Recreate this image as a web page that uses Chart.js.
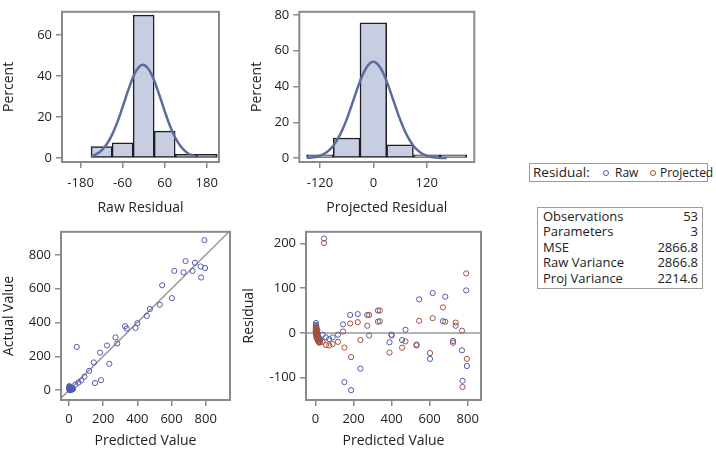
<!DOCTYPE html>
<html>
<head>
<meta charset="utf-8">
<script src="https://cdn.jsdelivr.net/npm/chart.js@4.4.0/dist/chart.umd.min.js"></script>
<style>
body { margin: 0; background: #fff; width: 716px; height: 450px; position: relative; overflow: hidden; font-family: 'Open Sans', sans-serif; color: #222; }
.pane { position: absolute; }
#legend { position: absolute; left: 529px; top: 163px; width: 177px; height: 17px; border: 1.5px solid #9a9a9a; font-size: 12px; white-space: nowrap; }
#legend span { position: absolute; top: 0; line-height: 17px; }
#legend .dot { top: 6px; box-sizing: border-box; width: 6px; height: 6px; border-radius: 50%; border: 1px solid; }
#stats { position: absolute; left: 537px; top: 207px; width: 164px; border: 1.5px solid #9a9a9a; font-size: 13px; padding: 1px 0 2px; }
#stats div { display: flex; justify-content: space-between; height: 15.4px; line-height: 15.4px; padding: 0 4px 0 5px; }
</style>
</head>
<body>
<div class="pane" style="left:0;top:0;width:230px;height:220px"><canvas id="rawHist"></canvas></div>
<div class="pane" style="left:240px;top:0;width:245px;height:220px"><canvas id="projHist"></canvas></div>
<div class="pane" style="left:0;top:220px;width:240px;height:230px"><canvas id="fitPlot"></canvas></div>
<div class="pane" style="left:240px;top:220px;width:250px;height:230px"><canvas id="residPlot"></canvas></div>
<div id="legend">
  <span style="left:3px;font-size:13.5px">Residual:</span>
  <span class="dot" style="left:73px;border-color:rgb(80,90,175)"></span>
  <span style="left:85px">Raw</span>
  <span class="dot" style="left:120px;border-color:rgb(165,80,60)"></span>
  <span style="left:130px">Projected</span>
</div>
<div id="stats"></div>
<script>
// histogram bins (percent of 53 obs)
var binCenters = [-120, -60, 0, 60, 120, 180];
var binWidth = 60;
var rawPercent = [5.7, 7.5, 69.8, 13.2, 1.9, 1.9];
var projPercent = [1.9, 11.3, 75.5, 7.5, 1.9, 1.9];

// fitted normal curves
var rawCurveX = [-150, -135, -120, -105, -90, -75, -60, -45, -30, -15, 0, 15, 30, 45, 60, 75, 90, 105, 120, 135, 150];
var rawCurveY = [0.9, 2.0, 3.8, 6.9, 11.5, 17.6, 25.0, 32.7, 39.6, 44.2, 45.5, 43.2, 37.9, 30.7, 23.0, 15.8, 10.1, 5.9, 3.2, 1.6, 0.8];
var projCurveX = [-150, -135, -120, -105, -90, -75, -60, -45, -30, -15, 0, 15, 30, 45, 60, 75, 90, 105, 120, 135, 150, 165];
var projCurveY = [0.2, 0.5, 1.4, 3.3, 7.0, 13.0, 21.7, 32.3, 42.9, 50.8, 53.8, 50.8, 42.9, 32.3, 21.7, 13.0, 7.0, 3.3, 1.4, 0.5, 0.2, 0.1];

// observations
var predicted = [792, 682, 737, 616, 670, 723, 770, 796, 773, 545, 602, 531, 473, 455, 400, 389, 328, 338, 272, 282, 222, 45, 182, 236, 145, 118, 152, 187, 90, 72, 55, 37,
                 2, 3, 4, 1, 5, 6, 2, 7, 3, 8, 4, 9, 10, 5, 11, 12, 14, 16, 18, 20, 24];
var actual = [887, 763, 753, 705, 696, 705, 731, 722, 666, 620, 544, 505, 480, 439, 396, 368, 378, 364, 312, 276, 264, 256, 222, 156, 164, 114, 42, 59, 80, 58, 45, 33,
              24, 21, 18, 11, 13, 11, 5, 8, 2, 6, 16, 5, 16, 0, 4, 4, 4, 4, 5, 6, 9];
var rawResid = [95, 81, 16, 89, 26, -18, -39, -74, -107, 75, -58, -26, 7, -16, -4, -21, 50, 26, 40, -6, 42, 211, 40, -80, 19, -4, -110, -128, -10, -14, -10, -4,
                22, 18, 14, 10, 8, 5, 3, 1, -1, -2, 12, -4, 6, -5, -7, -8, -10, -12, -13, -14, -15];
var projResid = [133, 25, 23, 33, 57, -22, 5, -58, -121, 27, -45, -28, -19, -33, -6, -44, 25, 50, 16, 40, 24, 201, 21, -16, 3, -20, -33, -54, -25, -28, -27, -20,
                 15, 12, 8, 5, 3, 0, -2, -4, -6, -8, 6, -10, -3, -12, -14, -16, -18, -20, -21, -22, -20];

// tick labels
var rawHistXTicks = [-180, -60, 60, 180];
var rawHistYTicks = [0, 20, 40, 60];
var projHistXTicks = [-120, 0, 120];
var projHistYTicks = [0, 20, 40, 60, 80];
var fitTicks = [0, 200, 400, 600, 800];
var residXTicks = [0, 200, 400, 600, 800];
var residYTicks = [-100, 0, 100, 200];

var statLabels = ['Observations', 'Parameters', 'MSE', 'Raw Variance', 'Proj Variance'];
var statValues = ['53', '3', '2866.8', '2866.8', '2214.6'];

var BLUE = 'rgb(80,90,175)';
var RED = 'rgb(165,80,60)';
var GRAY = '#8a8a8a';

Chart.defaults.font.family = "'Open Sans', sans-serif";
Chart.defaults.font.size = 13;
Chart.defaults.color = '#222';
Chart.defaults.animation = false;

var frame = {
    id: 'frame',
    afterDraw: function(chart) {
        var a = chart.chartArea, c = chart.ctx;
        c.save();
        c.strokeStyle = GRAY;
        c.lineWidth = 2;
        c.strokeRect(a.left, a.top, a.right - a.left, a.bottom - a.top);
        c.restore();
    }
};

function axis(min, max, ticks, title, size, tickPad, titlePad) {
    return {
        type: 'linear',
        min: min,
        max: max,
        offset: false,
        afterBuildTicks: function(s) { s.ticks = ticks.map(function(v) { return {value: v}; }); },
        afterFit: function(s) { if (s.isHorizontal()) s.height = size; else s.width = size; },
        grid: {drawOnChartArea: false, drawTicks: true, tickLength: 6, color: GRAY, lineWidth: 1.5, offset: false},
        border: {display: false},
        ticks: {padding: tickPad, maxRotation: 0, autoSkip: false},
        title: {display: true, text: title, font: {size: 14}, padding: titlePad}
    };
}

function pts(xs, ys) {
    return xs.map(function(x, i) { return {x: x, y: ys[i]}; });
}

function histogram(id, percents, curveX, curveY, xr, yr, xTicks, yTicks, xTitle, yAxisWidth, yTitlePad, rightPad) {
    var chart = new Chart(document.getElementById(id), {
        type: 'bar',
        data: {
            datasets: [{
                type: 'line',
                data: pts(curveX, curveY),
                borderColor: 'rgb(92,108,155)',
                borderWidth: 2.5,
                pointRadius: 0,
                tension: 0.4,
                fill: false
            }, {
                data: pts(binCenters, percents),
                backgroundColor: 'rgb(199,206,226)',
                borderColor: 'rgb(30,30,35)',
                borderWidth: 1.5,
                borderSkipped: false,
                grouped: false
            }]
        },
        options: {
            responsive: true,
            maintainAspectRatio: false,
            layout: {padding: {top: 3, right: rightPad, left: 0, bottom: 0}},
            plugins: {legend: {display: false}, tooltip: {enabled: false}},
            scales: {
                x: axis(xr[0], xr[1], xTicks, xTitle, 58, 7, {top: 0, bottom: 4}),
                y: axis(yr[0], yr[1], yTicks, 'Percent', yAxisWidth, 4, {top: yTitlePad, bottom: 0})
            }
        },
        plugins: [frame]
    });
    // bars span one full bin on the x scale
    var sx = chart.scales.x;
    chart.data.datasets[1].barThickness = sx.getPixelForValue(binWidth) - sx.getPixelForValue(0);
    chart.update();
    return chart;
}

histogram('rawHist', rawPercent, rawCurveX, rawCurveY, [-233, 215], [-1.85, 71.4],
          rawHistXTicks, rawHistYTicks, 'Raw Residual', 62, 1, 11);
histogram('projHist', projPercent, projCurveX, projCurveY, [-166.5, 227], [-2.1, 81.7],
          projHistXTicks, projHistYTicks, 'Projected Residual', 59.3, 8.5, 10.7);

var circle = {pointStyle: 'circle', pointRadius: 2.6, borderWidth: 1, backgroundColor: 'rgba(0,0,0,0)', showLine: false};

new Chart(document.getElementById('fitPlot'), {
    type: 'scatter',
    data: {
        datasets: [Object.assign({data: pts(predicted, actual), borderColor: BLUE}, circle), {
            type: 'line',
            data: [{x: -60, y: -60}, {x: 960, y: 960}],
            borderColor: '#9a9a9a',
            borderWidth: 1.5,
            pointRadius: 0
        }]
    },
    options: {
        responsive: true,
        maintainAspectRatio: false,
        layout: {padding: {top: 10, right: 10, left: 0, bottom: 0}},
        plugins: {legend: {display: false}, tooltip: {enabled: false}},
        scales: {
            x: axis(-47, 942, fitTicks, 'Predicted Value', 50, 5, {top: 0, bottom: 1}),
            y: axis(-58, 936, fitTicks, 'Actual Value', 61, 4, {top: 1, bottom: 0})
        }
    },
    plugins: [frame]
});

new Chart(document.getElementById('residPlot'), {
    type: 'scatter',
    data: {
        datasets: [
            Object.assign({data: pts(predicted, projResid), borderColor: RED}, circle),
            Object.assign({data: pts(predicted, rawResid), borderColor: BLUE}, circle),
            {
                type: 'line',
                data: [{x: -60, y: 0}, {x: 900, y: 0}],
                borderColor: '#9a9a9a',
                borderWidth: 1.5,
                pointRadius: 0
            }
        ]
    },
    options: {
        responsive: true,
        maintainAspectRatio: false,
        layout: {padding: {top: 10, right: 9, left: 0, bottom: 0}},
        plugins: {legend: {display: false}, tooltip: {enabled: false}},
        scales: {
            x: axis(-50, 870, residXTicks, 'Predicted Value', 50, 5, {top: 0, bottom: 1}),
            y: axis(-150, 226, residYTicks, 'Residual', 66, 4, {top: 1, bottom: 0})
        }
    },
    plugins: [frame]
});

var stats = document.getElementById('stats');
statLabels.forEach(function(label, i) {
    var row = document.createElement('div');
    row.innerHTML = '<span>' + label + '</span><span>' + statValues[i] + '</span>';
    stats.appendChild(row);
});
</script>
</body>
</html>
